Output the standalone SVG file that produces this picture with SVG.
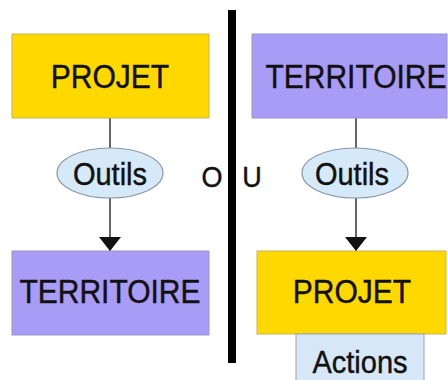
<svg xmlns="http://www.w3.org/2000/svg" width="448" height="380" viewBox="0 0 448 380">
<defs>
<style>
.t{font-family:"Liberation Sans",Arial,sans-serif;fill:#111;stroke:#111;stroke-width:0.4;text-anchor:middle}
.big{font-size:30px}
.mid{font-size:29px}
.proj{fill:#FFD800;stroke:#C9B25A;stroke-width:1}
.terr{fill:#A99CF7;stroke:#9A93C8;stroke-width:1}
.ell{fill:#D6E9F8;stroke:#8A97A6;stroke-width:1.2}
.act{fill:#D6E8F7;stroke:#9AA3AD;stroke-width:1}
.ln{stroke:#333;stroke-width:1.5;fill:none}
</style>
<marker id="ah" viewBox="0 0 14 22" refX="14" refY="11" markerUnits="userSpaceOnUse" markerWidth="14" markerHeight="22" orient="auto">
<path d="M0,0 L14,11 L0,22 Z" fill="#111"/>
</marker>
</defs>
<rect width="448" height="380" fill="#fff"/>
<g id="connectors">
<line class="ln" x1="110" y1="118" x2="110" y2="148"/>
<line class="ln" x1="110" y1="198" x2="110" y2="251" marker-end="url(#ah)"/>
<line class="ln" x1="356" y1="118" x2="356" y2="148"/>
<line class="ln" x1="356" y1="198" x2="356" y2="251" marker-end="url(#ah)"/>
</g>
<g id="divider">
<rect x="228" y="10" width="8" height="353" fill="#000"/>
<text class="t" transform="translate(212,187) scale(1,1.1)" style="font-size:27px">O</text>
<text class="t" transform="translate(252,187) scale(1,1.1)" style="font-size:27px">U</text>
</g>
<g id="projet-left">
<rect class="proj" x="12" y="34" width="197" height="84"/>
<text class="t big" transform="translate(110,88) scale(1,1.1)">PROJET</text>
</g>
<g id="outils-left">
<ellipse class="ell" cx="110" cy="173" rx="53" ry="25"/>
<text class="t mid" transform="translate(110,185) scale(1,1.1)">Outils</text>
</g>
<g id="territoire-left">
<rect class="terr" x="12" y="251" width="197" height="84"/>
<text class="t big" transform="translate(110,303) scale(1,1.1)">TERRITOIRE</text>
</g>
<g id="territoire-right">
<rect class="terr" x="252" y="34" width="195" height="84"/>
<text class="t big" transform="translate(356,88) scale(1,1.1)">TERRITOIRE</text>
</g>
<g id="outils-right">
<ellipse class="ell" cx="355" cy="173" rx="53" ry="25"/>
<text class="t mid" transform="translate(352,185) scale(1,1.1)">Outils</text>
</g>
<g id="projet-right">
<rect class="proj" x="257" y="251" width="189" height="83"/>
<text class="t big" transform="translate(352,303) scale(1,1.1)">PROJET</text>
</g>
<g id="actions">
<rect class="act" x="296" y="334" width="128" height="50"/>
<text class="t mid" transform="translate(360,373) scale(1,1.1)">Actions</text>
</g>
</svg>
